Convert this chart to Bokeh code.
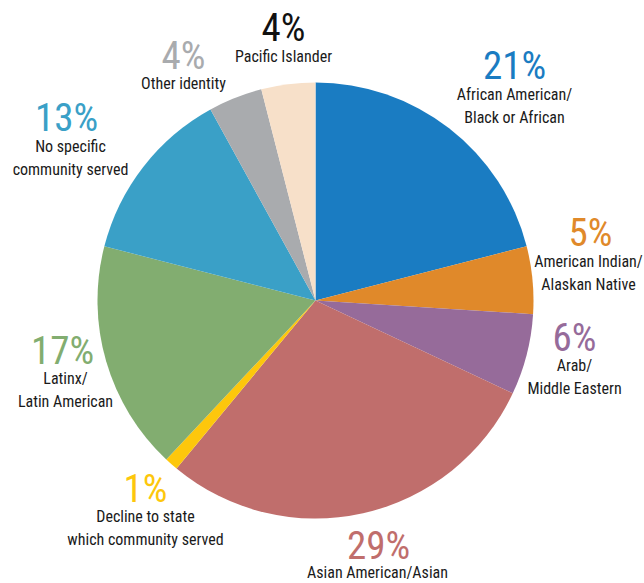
import math
from bokeh.plotting import figure
from bokeh.models import ColumnDataSource
from bokeh.core.properties import value
from bokeh.embed import file_html
from bokeh.resources import INLINE

# ---- data ----
categories = ["African American/\nBlack or African", "American Indian/\nAlaskan Native",
              "Arab/\nMiddle Eastern", "Asian American/Asian",
              "Decline to state\nwhich community served", "Latinx/\nLatin American",
              "No specific\ncommunity served", "Other identity", "Pacific Islander"]
shares = [21, 5, 6, 29, 1, 17, 13, 4, 4]
pct_labels = ["21%", "5%", "6%", "29%", "1%", "17%", "13%", "4%", "4%"]
colors = ["#1a7cc2", "#e0892a", "#966b9a", "#c06e6c", "#fdc70c",
          "#82ad70", "#3aa0c7", "#a9abae", "#f7e0c9"]
pct_colors = ["#1a7cc2", "#e0892a", "#966b9a", "#c06e6c", "#fdc70c",
              "#82ad70", "#3aa0c7", "#a9abae", "#111111"]

# ---- layout (image pixel coords, y down) ----
W, H = 644, 583
cx, cy, R = 315, 300, 218
pct_pos = [(514, 80), (590, 247), (574, 352), (378, 560), (145, 503),
           (62, 365), (66, 132), (183, 70), (283, 42)]
pct_shift = 15
name_top = [87, 254, 358, 565, 509, 371, 139, 76, 49]
name_x = [514, 588, 574, 377, 145, 65, 70, 183, 283]

total = sum(shares)
starts, ends = [], []
a = math.pi / 2
for s in shares:
    starts.append(a)
    a -= 2 * math.pi * s / total
    ends.append(a)

src = ColumnDataSource(dict(start=starts, end=ends, color=colors))

p = figure(width=W, height=H, x_range=(0, W), y_range=(0, H),
           output_backend="svg", toolbar_location=None, min_border=0,
           outline_line_color=None)
p.axis.visible = False
p.grid.visible = False
p.background_fill_color = "white"
p.border_fill_color = "white"

p.wedge(x=cx, y=H - cy, radius=R, start_angle="start", end_angle="end",
        direction="clock", color="color", line_color=None, source=src)

font = "'Roboto Condensed', 'Liberation Sans Narrow', 'DejaVu Sans Condensed', Roboto, sans-serif"
p.text(x=[q[0] for q in pct_pos], y=[H - q[1] + pct_shift for q in pct_pos], text=pct_labels,
       text_color=pct_colors, text_font=value(font), text_font_size="39px",
       text_align="center", text_baseline="alphabetic")

name_src = ColumnDataSource(dict(x=name_x, y=[H - v + 3 for v in name_top], t=categories))
p.text(x="x", y="y", text="t", source=name_src, text_color="#1a1a1a",
       text_font=value(font), text_font_size="16px", text_line_height=1.25,
       text_align="center", text_baseline="top")

open("out.html", "w").write(file_html(p, INLINE))
